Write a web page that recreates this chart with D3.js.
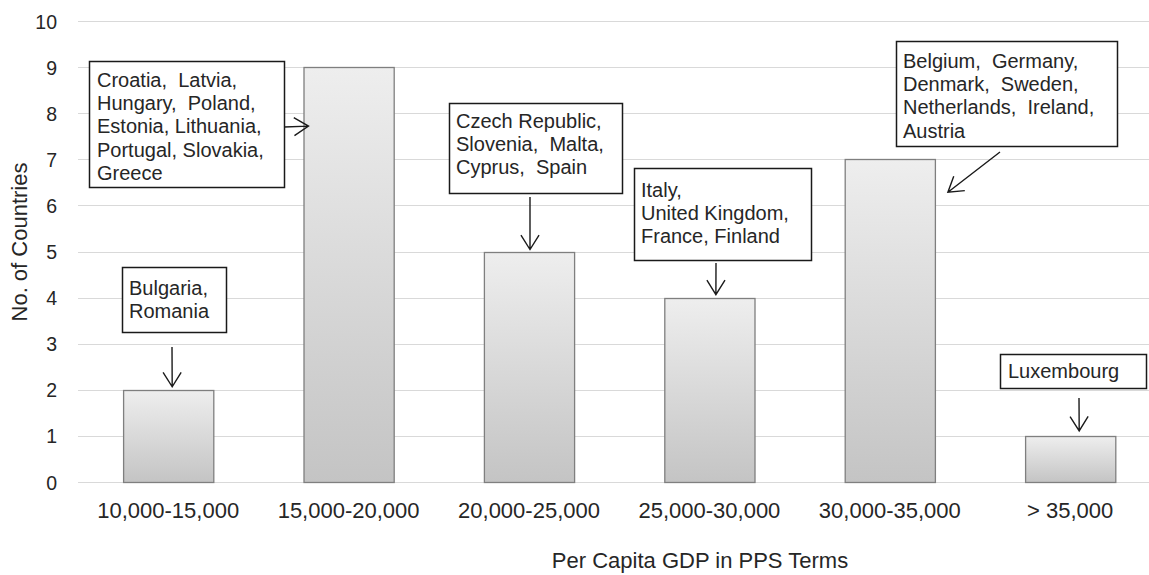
<!DOCTYPE html>
<html>
<head>
<meta charset="utf-8">
<script src="https://cdn.jsdelivr.net/npm/d3@7"></script>
<style>
  html, body { margin: 0; padding: 0; background: #ffffff; }
  svg { display: block; font-family: "Liberation Sans", Arial, sans-serif; }
</style>
</head>
<body>
<svg id="chart" width="1149" height="575"></svg>
<script>
// Income bands (per capita GDP, PPS) and number of EU countries in each
const categories = ["10,000-15,000", "15,000-20,000", "20,000-25,000", "25,000-30,000", "30,000-35,000", "> 35,000"];
const counts = [2, 9, 5, 4, 7, 1];
const yTicks = [0, 1, 2, 3, 4, 5, 6, 7, 8, 9, 10];

// Countries listed in the callout for each band
const countryGroups = [
  ["Bulgaria,", "Romania"],
  ["Croatia,  Latvia,", "Hungary,  Poland,", "Estonia, Lithuania,", "Portugal, Slovakia,", "Greece"],
  ["Czech Republic,", "Slovenia,  Malta,", "Cyprus,  Spain"],
  ["Italy,", "United Kingdom,", "France, Finland"],
  ["Belgium,  Germany,", "Denmark,  Sweden,", "Netherlands,  Ireland,", "Austria"],
  ["Luxembourg"]
];

const yTitle = "No. of Countries";
const xTitle = "Per Capita GDP in PPS Terms";

// Callout placement: box [x, y, w, h], text inset, arrow tail and tip offset from the bar
const calloutLayout = [
  { box: [122, 267, 104, 65], tx: 129, ty: 295, tail: [172, 347], anchor: "top", dx: 4, dy: -3 },
  { box: [89, 61, 195, 126], tx: 97, ty: 87, tail: [284, 127], anchor: "left", dx: 5, dy: 59 },
  { box: [449, 103, 173, 90], tx: 456, ty: 128, tail: [530, 197], anchor: "top", dx: 1, dy: -2 },
  { box: [634, 168, 177, 92], tx: 641, ty: 197, tail: [716, 263], anchor: "top", dx: 6.5, dy: -3 },
  { box: [896, 41, 221, 105], tx: 903, ty: 68, tail: [1000, 152], anchor: "right", dx: 13, dy: 33 },
  { box: [1000, 354, 146, 34], tx: 1008, ty: 378, tail: [1079, 398], anchor: "top", dx: 9, dy: -5 }
];

const svg = d3.select("#chart");

const x = d3.scaleBand()
  .domain(categories)
  .range([78, 1160.4])
  .paddingInner(0.5)
  .paddingOuter(0.25);

const y = d3.scaleLinear()
  .domain([0, 10])
  .range([482, 21]);

// Bar fill: light at the top, darker towards the base
const defs = svg.append("defs");
const grad = defs.append("linearGradient")
  .attr("id", "barFill")
  .attr("x1", 0).attr("y1", 0).attr("x2", 0).attr("y2", 1);
grad.append("stop").attr("offset", "0%").attr("stop-color", "#eeeeee");
grad.append("stop").attr("offset", "100%").attr("stop-color", "#c4c4c4");

// Horizontal gridlines
svg.append("g")
  .selectAll("line")
  .data(yTicks)
  .join("line")
  .attr("x1", 78)
  .attr("x2", 1149)
  .attr("y1", d => Math.round(y(d)) + 0.5)
  .attr("y2", d => Math.round(y(d)) + 0.5)
  .attr("stroke", "#d9d9d9")
  .attr("stroke-width", 1);

// Y axis tick labels
const yAxis = d3.axisLeft(y).tickValues(yTicks).tickSize(0).tickPadding(0);
const yAxisG = svg.append("g")
  .attr("transform", "translate(57,0)")
  .call(yAxis);
yAxisG.select(".domain").remove();
yAxisG.selectAll("text")
  .attr("font-family", "Liberation Sans, Arial, sans-serif")
  .attr("font-size", "19.5px")
  .attr("fill", "#262626")
  .attr("dy", "0.36em");

// X axis category labels
const xAxis = d3.axisBottom(x).tickSize(0).tickPadding(0);
const xAxisG = svg.append("g")
  .attr("transform", "translate(0,482)")
  .call(xAxis);
xAxisG.select(".domain").remove();
xAxisG.selectAll("text")
  .attr("font-family", "Liberation Sans, Arial, sans-serif")
  .attr("font-size", "22px")
  .attr("fill", "#262626")
  .attr("dy", 0)
  .attr("y", 36);

// Bars
svg.append("g")
  .selectAll("rect")
  .data(counts)
  .join("rect")
  .attr("x", (d, i) => x(categories[i]) + 0.5)
  .attr("y", d => Math.round(y(d)) + 0.5)
  .attr("width", x.bandwidth())
  .attr("height", d => Math.round(y(0)) - Math.round(y(d)))
  .attr("fill", "url(#barFill)")
  .attr("stroke", "#7f7f7f")
  .attr("stroke-width", 1.3);

// Axis titles
svg.append("text")
  .attr("transform", "translate(27,242) rotate(-90)")
  .attr("text-anchor", "middle")
  .attr("font-size", "22px")
  .attr("fill", "#262626")
  .text(yTitle);

svg.append("text")
  .attr("x", 700)
  .attr("y", 568)
  .attr("text-anchor", "middle")
  .attr("font-size", "22px")
  .attr("fill", "#262626")
  .text(xTitle);

// Callouts: boxed country lists with an arrow to their bar
const callouts = svg.append("g");
calloutLayout.forEach((c, i) => {
  const g = callouts.append("g");
  g.append("rect")
    .attr("x", c.box[0] + 0.5)
    .attr("y", c.box[1] + 0.5)
    .attr("width", c.box[2])
    .attr("height", c.box[3])
    .attr("fill", "#ffffff")
    .attr("stroke", "#1a1a1a")
    .attr("stroke-width", 1.5);

  const t = g.append("text")
    .attr("font-size", "20px")
    .attr("fill", "#262626")
    .attr("xml:space", "preserve")
    .style("white-space", "pre");
  countryGroups[i].forEach((line, k) => {
    t.append("tspan")
      .attr("x", c.tx)
      .attr("y", c.ty + k * 23.2)
      .text(line);
  });

  // Arrow tip is placed relative to the bar's top edge
  const cat = categories[i];
  let bx;
  if (c.anchor === "left") bx = x(cat);
  else if (c.anchor === "right") bx = x(cat) + x.bandwidth();
  else bx = x(cat) + x.bandwidth() / 2;
  const tip = [bx + c.dx, y(counts[i]) + c.dy];
  const tail = c.tail;
  const ang = Math.atan2(tip[1] - tail[1], tip[0] - tail[0]);
  const headLen = 17, spread = Math.PI / 5.6;
  const a1 = [tip[0] - headLen * Math.cos(ang - spread), tip[1] - headLen * Math.sin(ang - spread)];
  const a2 = [tip[0] - headLen * Math.cos(ang + spread), tip[1] - headLen * Math.sin(ang + spread)];

  g.append("path")
    .attr("d", `M${tail[0]},${tail[1]}L${tip[0]},${tip[1]}M${a1[0]},${a1[1]}L${tip[0]},${tip[1]}L${a2[0]},${a2[1]}`)
    .attr("fill", "none")
    .attr("stroke", "#1a1a1a")
    .attr("stroke-width", 1.4);
});
</script>
</body>
</html>
